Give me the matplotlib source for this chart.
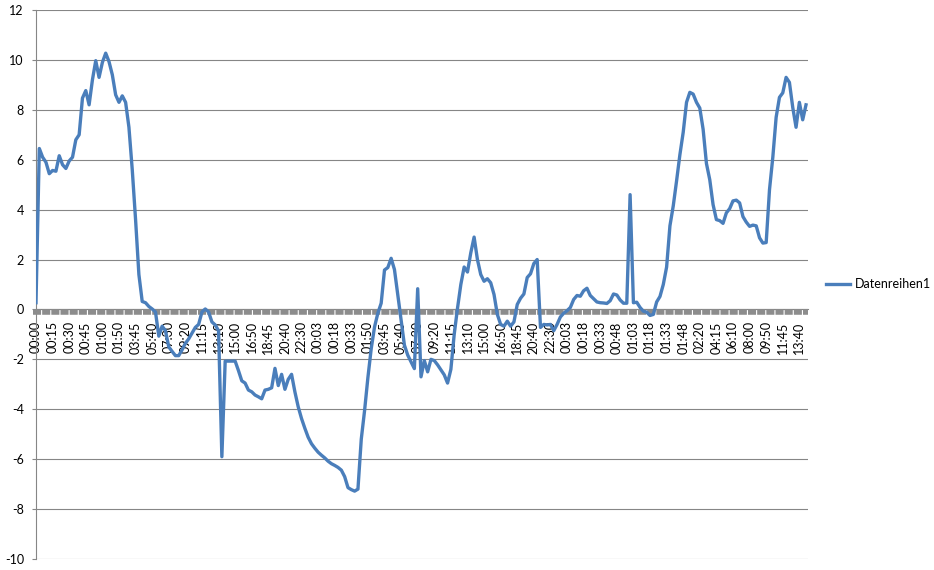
import matplotlib
matplotlib.use("Agg")
import matplotlib.pyplot as plt
import matplotlib.transforms as mtransforms
import numpy as np

plt.rcParams['font.family'] = ['Lato', 'DejaVu Sans']
plt.rcParams['axes.unicode_minus'] = False

series_name = "Datenreihen1"

values = [
    0.27, 6.45, 6.1, 5.9, 5.44, 5.57, 5.54, 6.16, 5.8, 5.65,
    5.95, 6.1, 6.8, 7.0, 8.47, 8.77, 8.2, 9.2, 9.97, 9.3,
    9.9, 10.27, 9.93, 9.4, 8.6, 8.3, 8.56, 8.3, 7.3, 5.6,
    3.6, 1.4, 0.32, 0.27, 0.12, 0.02, -0.1, -1.07, -0.67, -0.85,
    -1.5, -1.68, -1.85, -1.85, -1.62, -1.36, -1.18, -0.95, -0.72, -0.6,
    -0.1, 0.02, -0.1, -0.5, -0.62, -0.85, -5.9, -2.07, -2.07, -2.07,
    -2.07, -2.45, -2.86, -2.95, -3.23, -3.3, -3.43, -3.5, -3.58, -3.23,
    -3.2, -3.14, -2.36, -3.05, -2.6, -3.2, -2.8, -2.6, -3.3, -3.9,
    -4.37, -4.76, -5.12, -5.38, -5.56, -5.72, -5.84, -5.95, -6.08, -6.18,
    -6.25, -6.33, -6.44, -6.7, -7.14, -7.22, -7.28, -7.2, -5.2, -4.05,
    -2.73, -1.57, -0.7, -0.15, 0.25, 1.58, 1.68, 2.05, 1.6, 0.6,
    -0.43, -1.43, -1.83, -2.1, -2.37, 0.83, -2.7, -2.05, -2.5, -2.0,
    -2.05, -2.22, -2.42, -2.62, -2.95, -2.4, -1.0, 0.05, 1.0, 1.7,
    1.5, 2.27, 2.9, 2.0, 1.4, 1.13, 1.23, 1.07, 0.6, -0.2,
    -0.6, -0.67, -0.47, -0.67, -0.5, 0.2, 0.45, 0.62, 1.28, 1.43,
    1.84, 2.0, -0.72, -0.6, -0.62, -0.6, -0.85, -0.6, -0.3, -0.15,
    -0.05, 0.08, 0.4, 0.56, 0.53, 0.75, 0.85, 0.56, 0.43, 0.3,
    0.27, 0.26, 0.24, 0.35, 0.62, 0.58, 0.38, 0.25, 0.25, 4.6,
    0.27, 0.29, 0.08, -0.07, -0.11, -0.24, -0.2, 0.3, 0.52, 1.0,
    1.7, 3.35, 4.15, 5.15, 6.2, 7.1, 8.3, 8.7, 8.63, 8.3,
    8.07, 7.22, 5.85, 5.2, 4.2, 3.6, 3.56, 3.45, 3.87, 4.04,
    4.35, 4.38, 4.27, 3.72, 3.5, 3.33, 3.38, 3.35, 2.87, 2.66,
    2.68, 4.8, 6.1, 7.7, 8.5, 8.68, 9.3, 9.1, 8.1, 7.3,
    8.3, 7.6, 8.2,
]

tick_labels = [
    "00:00", "00:15", "00:30", "00:45", "01:00", "01:50", "03:45", "05:40",
    "07:30", "09:20", "11:15", "13:10", "15:00", "16:50", "18:45", "20:40",
    "22:30", "00:03", "00:18", "00:33", "01:50", "03:45", "05:40", "07:30",
    "09:20", "11:15", "13:10", "15:00", "16:50", "18:45", "20:40", "22:30",
    "00:03", "00:18", "00:33", "00:48", "01:03", "01:18", "01:33", "01:48",
    "02:20", "04:15", "06:10", "08:00", "09:50", "11:45", "13:40",
]
label_step = 5

y_ticks = [-10, -8, -6, -4, -2, 0, 2, 4, 6, 8, 10, 12]

W, H = 934, 570
fig = plt.figure(figsize=(W / 100, H / 100), dpi=100)
ax = fig.add_axes([36 / W, 1 - 559 / H, (808 - 36) / W, (559 - 10) / H])

x = np.arange(len(values))
line_color = "#4A7EBB"
grid_color = "#868686"

ax.plot(x, values, color=line_color, lw=2.4, solid_joinstyle='round',
        label=series_name, zorder=4)

for s in ['top', 'right']:
    ax.spines[s].set_visible(False)
ax.spines['left'].set_color(grid_color)
ax.spines['left'].set_linewidth(0.8)
ax.spines['bottom'].set_position(('data', 0))
ax.spines['bottom'].set_color(grid_color)
ax.spines['bottom'].set_linewidth(0.8)

ax.set_ylim(-10, 12)
ax.set_xlim(0, len(values) - 1 + 0.6)
ax.set_yticks(y_ticks)
ax.set_yticklabels([str(v) for v in y_ticks])
ax.yaxis.grid(True, color=grid_color, lw=0.8)
ax.set_axisbelow(True)

tick_pos = list(range(0, len(tick_labels) * label_step, label_step))
ax.set_xticks(tick_pos)
ax.set_xticklabels(tick_labels)

ax.tick_params(axis='y', length=3.2, width=0.8, color=grid_color, pad=5.5,
               labelsize=9, labelcolor='black')
ax.tick_params(axis='x', length=0, pad=8.5, labelsize=9, labelcolor='black',
               labelrotation=90)
for t in ax.get_xticklabels():
    t.set_rotation(90)
    t.set_verticalalignment('top')
    t.set_horizontalalignment('center')

# dense category tick band under the horizontal axis
off = mtransforms.offset_copy(ax.transData, fig=fig, x=0, y=-2.7, units='dots')
ax.plot([-0.9, len(values) - 1 + 0.6], [0, 0], color="#8c8c8c", lw=4.0,
        transform=off, dashes=(1.45, 0.2), solid_capstyle='butt',
        dash_capstyle='butt', clip_on=False, zorder=3)

fig.legend(loc='center left', bbox_to_anchor=(826 / W, 1 - 284 / H),
           frameon=False, fontsize=9, handlelength=1.95, handletextpad=0.35,
           borderpad=0, borderaxespad=0)

fig.savefig("out.png", dpi=100)
